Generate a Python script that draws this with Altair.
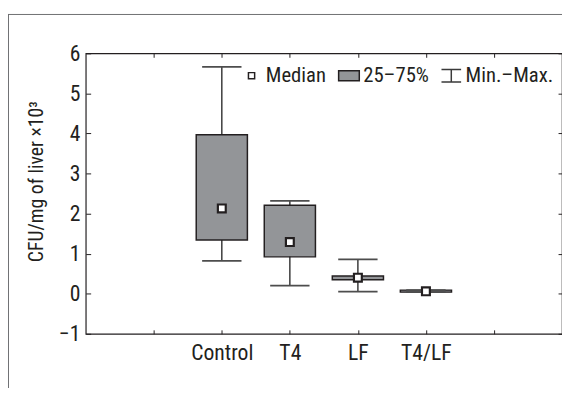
import altair as alt
import pandas as pd

# ---- data ----
groups = ["Control", "T4", "LF", "T4/LF"]
mins = [0.82, 0.20, 0.05, 0.04]
q1s = [1.34, 0.92, 0.35, 0.04]
medians = [2.13, 1.29, 0.40, 0.06]
q3s = [3.97, 2.21, 0.44, 0.09]
maxs = [5.66, 2.32, 0.86, 0.09]
y_ticks = [-1, 0, 1, 2, 3, 4, 5, 6]
x_domain = [" ", "Control", "T4", "LF", "T4/LF", "  "]
legend_items = ["Median", "25–75%", "Min.–Max."]

df = pd.DataFrame({"group": groups, "min": mins, "q1": q1s,
                   "median": medians, "q3": q3s, "max": maxs})
legend_df = pd.DataFrame({"item": legend_items})

FONT = "Roboto Condensed, Noto Sans Condensed, Open Sans Condensed, DejaVu Sans Condensed, sans-serif"
INK = "#231f20"

xscale = alt.Scale(type="point", domain=x_domain, padding=1)
yscale = alt.Scale(domain=[-1, 6], nice=False, zero=False)

base = alt.Chart(df)

whiskers = base.mark_rule(color="#3a3a3a", strokeWidth=1.5).encode(
    x=alt.X("group:N", scale=xscale, axis=alt.Axis(
        orient="bottom", offset=-4, tickSize=4, domain=False, grid=False,
        labelAngle=0, labelPadding=9, labelFontSize=22, labelFont=FONT,
        labelColor=INK, tickColor=INK, title=None)),
    y=alt.Y("min:Q", scale=yscale, axis=alt.Axis(
        orient="left", values=y_ticks, offset=-5, tickSize=5, domain=False,
        grid=False, labelPadding=6, labelFontSize=22, labelFont=FONT,
        labelColor=INK, tickColor=INK, title="CFU/mg of liver ×10³",
        titleFont=FONT, titleFontSize=20, titleFontWeight="normal",
        titleColor=INK, titlePadding=12, titleY=130)),
    y2="max:Q",
)

boxes = base.mark_bar(size=52, color="#939598", stroke=INK, strokeWidth=1.5).encode(
    x=alt.X("group:N", scale=xscale, axis=None),
    y=alt.Y("q1:Q", scale=yscale, axis=None),
    y2="q3:Q",
)

caps = base.transform_fold(["min", "max"], as_=["kind", "value"]).mark_tick(
    orient="horizontal", size=40, thickness=1.8, color="#4d4d4d", opacity=1
).encode(
    x=alt.X("group:N", scale=xscale, axis=alt.Axis(
        orient="top", offset=-4, tickSize=4, domain=False, grid=False,
        labels=False, tickColor=INK, title=None)),
    y=alt.Y("value:Q", scale=yscale, axis=alt.Axis(
        orient="right", values=y_ticks, offset=-4, tickSize=4, domain=False,
        grid=False, labels=False, tickColor=INK, title=None)),
)

meds = base.mark_square(size=64, filled=True, fill="white", stroke=INK,
                        strokeWidth=2.2, opacity=1).encode(
    x=alt.X("group:N", scale=xscale, axis=None),
    y=alt.Y("median:Q", scale=yscale, axis=None),
)

paths = ["M-0.3,-0.3H0.3V0.3H-0.3Z",
         "M-1,-0.48H1V0.48H-1Z",
         "M-0.95,-0.6H0.95M0,-0.6V0.6M-0.95,0.6H0.95"]
fills = ["white", "#939598", "transparent"]
strokes = [INK, INK, "#3a3a3a"]
leg = alt.Legend(orient="none", legendX=157, legendY=11, direction="horizontal",
                 title=None, labelFontSize=21, labelFont=FONT, labelColor=INK,
                 symbolSize=441, symbolStrokeWidth=1.5,
                 labelOffset=3, columnPadding=9, padding=0)

legend_layer = alt.Chart(legend_df).mark_point(
    filled=True, strokeWidth=1.5, clip=True, opacity=1
).encode(
    x=alt.value(-1000), y=alt.value(-1000),
    shape=alt.Shape("item:N", scale=alt.Scale(domain=legend_items, range=paths), legend=leg),
    fill=alt.Fill("item:N", scale=alt.Scale(domain=legend_items, range=fills), legend=leg),
    stroke=alt.Stroke("item:N", scale=alt.Scale(domain=legend_items, range=strokes), legend=leg),
)

frame_data = alt.Data(values=[{"k": 0}])
frame_left = alt.Chart(frame_data).mark_rule(color="#6d6e71", strokeWidth=1).encode(
    x=alt.value(-78.5), y=alt.value(-40), y2=alt.value(400))
frame_top = alt.Chart(frame_data).mark_rule(color="#6d6e71", strokeWidth=1).encode(
    x=alt.value(-79), x2=alt.value(600), y=alt.value(-39.5))

chart = alt.layer(
    frame_left, frame_top, whiskers, boxes, caps, meds, legend_layer
).resolve_axis(x="independent", y="independent").properties(
    width=484, height=285,
    padding={"left": 79, "top": 43, "right": 0, "bottom": 52},
    autosize=alt.AutoSizeParams(type="none"),
).configure_view(stroke=INK, strokeWidth=1.2)

chart.save("out.html", embed_options={"renderer": "svg", "actions": False})
